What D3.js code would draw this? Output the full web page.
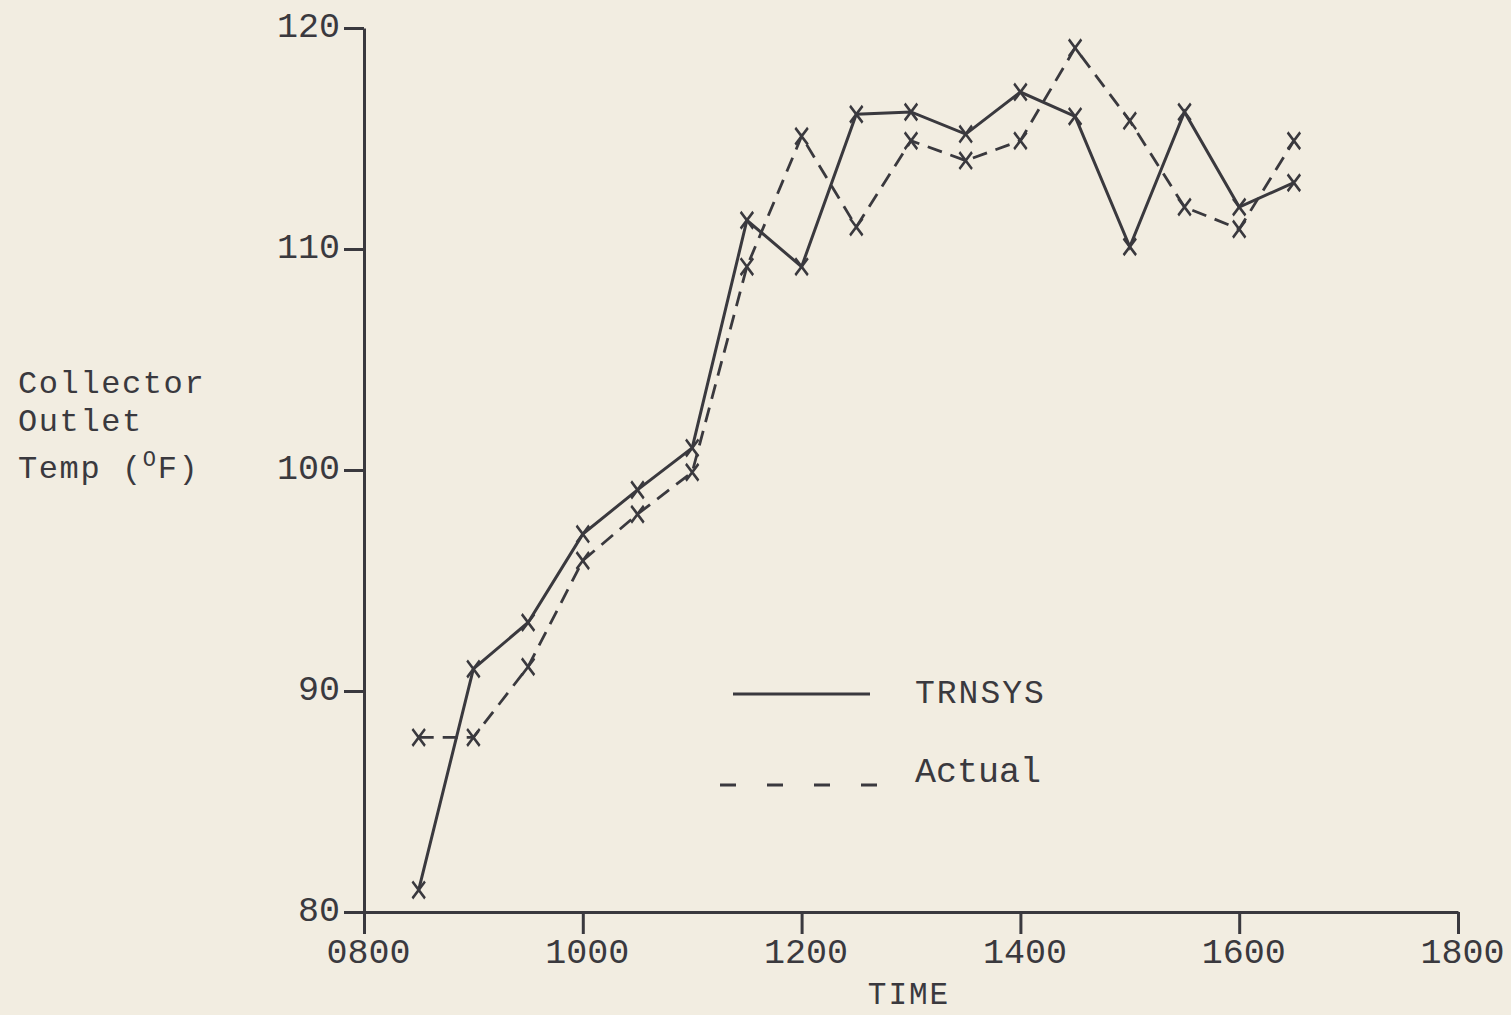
<!DOCTYPE html>
<html>
<head>
<meta charset="utf-8">
<script src="https://cdn.jsdelivr.net/npm/d3@7"></script>
<style>
  body { margin: 0; background: #f2ede1; }
  text { font-family: "Liberation Mono", "DejaVu Sans Mono", monospace; fill: #3a393e; }
</style>
</head>
<body>
<div id="chart"></div>
<script>
// time of day in hours (plotted every half hour)
var timeHours = [8.5, 9, 9.5, 10, 10.5, 11, 11.5, 12, 12.5, 13, 13.5, 14, 14.5, 15, 15.5, 16, 16.5];
// collector outlet temp (F)
var trnsysTemp = [81, 91, 93.1, 97.1, 99.1, 101, 111.3, 109.2, 116.1, 116.2, 115.2, 117.1, 116, 110.1, 116.2, 111.9, 113];
var actualTemp = [87.9, 87.9, 91.1, 95.9, 98, 99.9, 109.2, 115.1, 111, 114.9, 114, 114.9, 119.1, 115.8, 111.9, 110.9, 114.9];

var xTickValues = [8, 10, 12, 14, 16, 18];
var xTickLabels = ["0800", "1000", "1200", "1400", "1600", "1800"];
var yTickValues = [80, 90, 100, 110, 120];

var svgWidth = 1511;
var svgHeight = 1015;
var ink = "#3a393e";

var svg = d3.select("#chart")
  .append("svg")
  .attr("width", svgWidth)
  .attr("height", svgHeight);

// scales (pixel frame)
var xScale = d3.scaleLinear()
  .domain([8, 18])
  .range([364, 1458]);

var yScale = d3.scaleLinear()
  .domain([80, 120])
  .range([912, 28]);

// x axis
var bottomAxis = d3.axisBottom(xScale)
  .tickValues(xTickValues)
  .tickFormat((d, i) => xTickLabels[i])
  .tickSizeInner(22)
  .tickSizeOuter(0)
  .tickPadding(6);

var xAxis = svg.append("g")
  .attr("transform", `translate(0, ${yScale(80)})`)
  .call(bottomAxis);

xAxis.selectAll("text")
  .attr("dx", 4)
  .attr("dy", 0)
  .attr("y", 51)
  .style("font-size", "35px");

// y axis
var leftAxis = d3.axisLeft(yScale)
  .tickValues(yTickValues)
  .tickSizeInner(20)
  .tickSizeOuter(0)
  .tickPadding(4);

var yAxis = svg.append("g")
  .attr("transform", `translate(${xScale(8)}, 0)`)
  .call(leftAxis);

yAxis.selectAll("text")
  .attr("dy", 8)
  .attr("x", -24)
  .style("font-size", "35px");

svg.selectAll(".domain, .tick line")
  .attr("stroke", ink)
  .attr("stroke-width", 3);

// axis titles
svg.append("text")
  .attr("x", xScale(13) - 2)
  .attr("y", 1004)
  .attr("text-anchor", "middle")
  .style("font-size", "31px")
  .style("letter-spacing", "2px")
  .text("TIME");

var yTitle = svg.append("text")
  .attr("x", 18)
  .style("font-size", "32px")
  .style("letter-spacing", "1.6px");
yTitle.append("tspan").attr("x", 18).attr("y", 393).text("Collector");
yTitle.append("tspan").attr("x", 18).attr("y", 431).text("Outlet");
yTitle.append("tspan").attr("x", 18).attr("y", 478).text("Temp (");
yTitle.append("tspan").attr("dy", -12).style("font-size", "22px").text("O");
yTitle.append("tspan").attr("dy", 12).text("F)");

// lines
var lineGen = d3.line()
  .x(d => xScale(d[0]))
  .y(d => yScale(d[1]));

var trnsysData = timeHours.map((t, i) => [t, trnsysTemp[i]]);
var actualData = timeHours.map((t, i) => [t, actualTemp[i]]);

svg.append("path")
  .datum(actualData)
  .attr("d", lineGen)
  .attr("fill", "none")
  .attr("stroke", ink)
  .attr("stroke-width", 2.8)
  .attr("stroke-dasharray", "15,9");

svg.append("path")
  .datum(trnsysData)
  .attr("d", lineGen)
  .attr("fill", "none")
  .attr("stroke", ink)
  .attr("stroke-width", 3);

// x markers on both series
var marker = d3.symbol().type(d3.symbolX).size(130);

[trnsysData, actualData].forEach(function(series) {
  svg.append("g")
    .selectAll("path")
    .data(series)
    .enter()
    .append("path")
    .attr("transform", d => `translate(${xScale(d[0])}, ${yScale(d[1])}) scale(0.9, 1.2)`)
    .attr("d", marker)
    .attr("fill", "none")
    .attr("stroke", ink)
    .attr("stroke-width", 2.6);
});

// legend
svg.append("line")
  .attr("x1", 733).attr("x2", 870)
  .attr("y1", 694).attr("y2", 694)
  .attr("stroke", ink)
  .attr("stroke-width", 3.2);

svg.append("line")
  .attr("x1", 720).attr("x2", 877)
  .attr("y1", 785).attr("y2", 785)
  .attr("stroke", ink)
  .attr("stroke-width", 3.2)
  .attr("stroke-dasharray", "16,31");

svg.append("text")
  .attr("x", 915).attr("y", 703)
  .style("font-size", "33px")
  .style("letter-spacing", "2px")
  .text("TRNSYS");

svg.append("text")
  .attr("x", 915).attr("y", 782)
  .style("font-size", "35px")
  .text("Actual");
</script>
</body>
</html>
